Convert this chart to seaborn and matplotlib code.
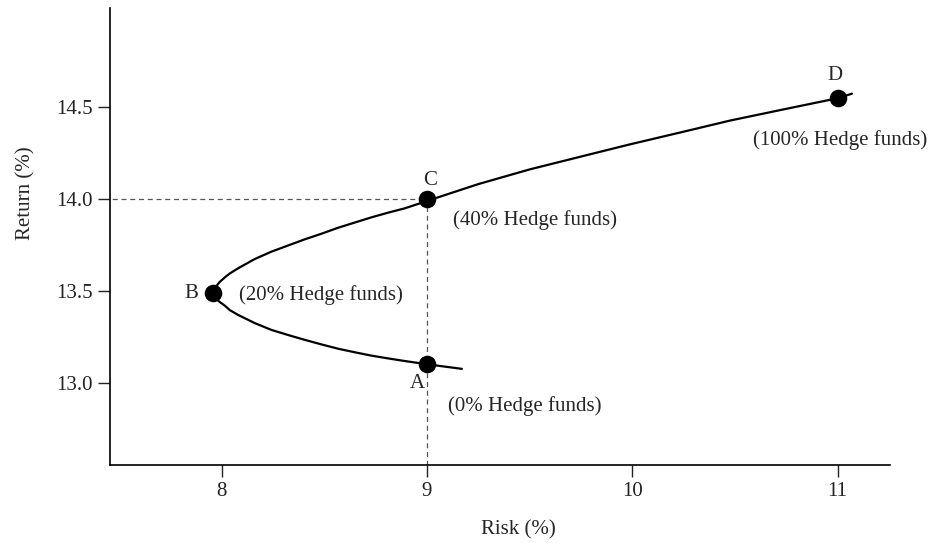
import matplotlib
matplotlib.use('Agg')
import matplotlib.pyplot as plt
import seaborn as sns
import pandas as pd

# frontier (from the tail beyond A, through B, up to D)
curve_risk = [9.17, 9.0, 8.89, 8.81, 8.73, 8.65, 8.57, 8.49, 8.405, 8.325, 8.243, 8.162,
              8.08, 8.04, 8.016, 7.99, 7.975, 7.963, 7.96, 7.963, 7.975, 7.99, 8.016,
              8.04, 8.08, 8.162, 8.243, 8.325, 8.405, 8.49, 8.567, 8.65, 8.73, 8.81,
              8.892, 9.0, 9.25, 9.5, 9.75, 9.99, 10.24, 10.475, 10.74, 11.0, 11.07]
curve_return = [13.075, 13.10, 13.118, 13.132, 13.147, 13.165, 13.184, 13.207, 13.233,
                13.259, 13.287, 13.324, 13.369, 13.395, 13.419, 13.44, 13.455, 13.472,
                13.49, 13.508, 13.527, 13.548, 13.574, 13.595, 13.623, 13.674, 13.714,
                13.748, 13.781, 13.813, 13.844, 13.873, 13.901, 13.926, 13.950, 13.99,
                14.082, 14.162, 14.232, 14.299, 14.365, 14.428, 14.49, 14.55, 14.575]

# labelled portfolios
point_names = ['A', 'B', 'C', 'D']
point_risk = [9.0, 7.96, 9.0, 11.0]
point_return = [13.10, 13.49, 14.0, 14.55]
point_notes = ['(0% Hedge funds)', '(20% Hedge funds)', '(40% Hedge funds)', '(100% Hedge funds)']

x_ticks = [8, 9, 10, 11]
y_ticks = [13.0, 13.5, 14.0, 14.5]

sns.set_style('ticks')
plt.rcParams['font.family'] = ['Liberation Serif', 'DejaVu Serif']

fig = plt.figure(figsize=(9.3, 5.43), dpi=100)
ax = fig.add_axes([0.118, 0.144, 0.839, 0.841])

curve = pd.DataFrame({'risk': curve_risk, 'ret': curve_return})
pts = pd.DataFrame({'risk': point_risk, 'ret': point_return})

# guide lines to C
c_risk, c_ret = point_risk[2], point_return[2]
ax.plot([7.0, c_risk], [c_ret, c_ret], color='#555555', lw=0.9, dashes=(4, 3), zorder=1)
ax.plot([c_risk, c_risk], [12.0, c_ret], color='#555555', lw=0.9, dashes=(4, 3), zorder=1)

sns.lineplot(data=curve, x='risk', y='ret', sort=False, estimator=None,
             color='black', lw=1.6, ax=ax, zorder=2)
sns.scatterplot(data=pts, x='risk', y='ret', color='black', s=160,
                linewidth=0, ax=ax, zorder=3)

fs = 15
letter_pos = [(8.952, 12.993), (7.853, 13.487), (9.014, 14.104), (10.987, 14.676)]
note_pos = [(9.102, 12.873), (8.085, 13.478), (9.128, 13.886), (10.589, 14.322)]
for name, (lx, ly) in zip(point_names, letter_pos):
    ax.text(lx, ly, name, ha='center', va='center', fontsize=fs)
for note, (nx, ny) in zip(point_notes, note_pos):
    ax.text(nx, ny, note, ha='left', va='center', fontsize=fs)

ax.set_xlim(7.455, 11.255)
ax.set_ylim(12.552, 15.041)
ax.set_xticks(x_ticks)
ax.set_xticklabels([str(t) for t in x_ticks])
ax.set_yticks(y_ticks)
ax.set_yticklabels([f'{t:.1f}' for t in y_ticks])
ax.tick_params(axis='both', labelsize=fs, length=8.5, width=1, pad=4, colors='#222222')

ax.set_xlabel('Risk (%)', fontsize=fs)
ax.set_ylabel('Return (%)', fontsize=fs)
ax.xaxis.set_label_coords(0.524, -0.122)
ax.yaxis.set_label_coords(-0.095, 0.595)

sns.despine(ax=ax)
for side in ['left', 'bottom']:
    ax.spines[side].set_linewidth(1.2)
    ax.spines[side].set_color('black')

fig.savefig('out.png', dpi=100)
